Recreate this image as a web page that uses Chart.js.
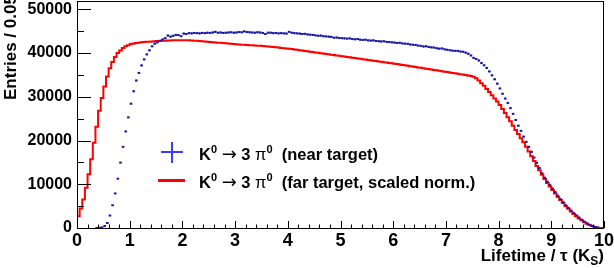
<!DOCTYPE html>
<html>
<head>
<meta charset="utf-8">
<script src="https://cdn.jsdelivr.net/npm/chart.js@4.4.1/dist/chart.umd.min.js"></script>
<style>
  html, body { margin: 0; padding: 0; background: #fff; }
  #wrap { position: relative; width: 614px; height: 268px; overflow: hidden; }
  #legend { position: absolute; left: 0; top: 0; font-family: "Liberation Sans", Arial, sans-serif; font-weight: bold; font-size: 16.5px; color: #000; }
  .row { position: absolute; left: 199px; white-space: pre; line-height: 18px; }
  .row sup { font-size: 11px; position: relative; top: -7px; vertical-align: baseline; line-height: 0; }
  .thin { font-weight: normal; }
  .arrow { font-weight: normal; font-family: "DejaVu Sans", sans-serif; font-size: 18px; line-height: 0; }
  .mark { position: absolute; }
</style>
</head>
<body>
<div id="wrap">
  <canvas id="myChart" width="614" height="268"></canvas>
  <div id="legend">
    <div class="mark" style="left:161px; top:151px; width:22px; height:2px; background:#3c3cff;"></div>
    <div class="mark" style="left:171px; top:142px; width:2px; height:21px; background:#3c3cff;"></div>
    <div class="mark" style="left:158px; top:179px; width:27px; height:3px; background:#ff0000;"></div>
    <div class="row" style="top:145px;">K<sup>0</sup> <span class="arrow">→</span> 3 <span class="thin">π</span><sup>0</sup>  (near target)</div>
    <div class="row" style="top:173px;">K<sup>0</sup> <span class="arrow">→</span> 3 <span class="thin">π</span><sup>0</sup>  (far target, scaled norm.)</div>
  </div>
</div>
<script>
const binWidth = 0.05;
const xTicks = [0, 1, 2, 3, 4, 5, 6, 7, 8, 9, 10];
const yTicks = [0, 10000, 20000, 30000, 40000, 50000];

// entries per 0.05 bin, 0 -> 10
const nearTarget = [
  null, null, null, null, null, null, null, 20, 60, 150,
  450, 1150, 2850, 5200, 7900, 11270, 14950, 18550, 22070, 25290,
  28420, 31260, 33720, 35460, 37170, 38550, 39700, 40620, 41540, 42150,
  42450, 42800, 43100, 43400, 44000, 43750, 43950, 44150, 44100, 43850,
  44450, 44350, 44550, 44500, 44600, 44550, 44500, 44600, 44550, 44650,
  44600, 44700, 44850, 44650, 44700, 44600, 44650, 44700, 44750, 44650,
  44700, 44800, 44750, 44950, 44800, 44750, 44700, 44650, 44750, 44700,
  44600, 44350, 44650, 44650, 44550, 44600, 44500, 44550, 44500, 44450,
  44850, 44650, 44550, 44500, 44450, 44350, 44400, 44250, 44200, 44150,
  44050, 43950, 44000, 43850, 43800, 43750, 43700, 43500, 43550, 43450,
  43400, 43350, 43300, 43350, 43200, 43150, 43200, 43050, 43000, 43050,
  42900, 42850, 42900, 42750, 42700, 42650, 42700, 42550, 42500, 42450,
  42400, 42300, 42350, 42200, 42150, 42100, 41950, 41900, 41850, 41700,
  41650, 41500, 41550, 41400, 41300, 41250, 41100, 41000, 41050, 40850,
  40750, 40650, 40550, 40500, 40500, 40350, 40300, 40100, 39850, 39450,
  38900, 38650, 38300, 37700, 37200, 36600, 35800, 34900, 34000, 33000,
  31900, 30700, 29600, 28600, 27400, 26100, 24700, 23400, 22200, 20900,
  19700, 18550, 17400, 16100, 14900, 13700, 12500, 11500, 10600, 9800,
  9000, 8200, 7400, 6600, 5900, 5200, 4600, 4000, 3400, 2900,
  2400, 1900, 1450, 1050, 750, 480, 270, 120, null, null
];

const farTarget = [
  2700, 4460, 6530, 9200, 12300, 15700, 19500, 23150, 26800, 29700,
  32350, 34650, 36550, 37930, 39080, 40000, 40600, 41150, 41540, 41800,
  42070, 42200, 42300, 42380, 42450, 42500, 42560, 42610, 42650, 42700,
  42740, 42780, 42810, 42840, 42860, 42880, 42900, 42910, 42920, 42930,
  42930, 42920, 42900, 42870, 42830, 42790, 42740, 42690, 42640, 42580,
  42530, 42480, 42430, 42380, 42330, 42280, 42230, 42170, 42120, 42070,
  42000, 41960, 41920, 41880, 41840, 41800, 41760, 41720, 41690, 41650,
  41600, 41540, 41480, 41420, 41360, 41300, 41240, 41180, 41120, 41060,
  40980, 40900, 40810, 40730, 40640, 40560, 40470, 40390, 40300, 40220,
  40130, 40050, 39960, 39880, 39790, 39710, 39620, 39540, 39450, 39370,
  39280, 39200, 39110, 39030, 38940, 38860, 38770, 38690, 38600, 38520,
  38430, 38350, 38260, 38180, 38090, 38010, 37920, 37840, 37750, 37670,
  37580, 37480, 37390, 37290, 37190, 37100, 37000, 36900, 36810, 36710,
  36620, 36520, 36420, 36330, 36230, 36130, 36040, 35940, 35840, 35750,
  35650, 35550, 35460, 35360, 35260, 35170, 35070, 34970, 34870, 34760,
  34600, 34250, 33700, 33100, 32500, 31800, 31100, 30350, 29600, 28900,
  28100, 27200, 26300, 25300, 24400, 23400, 22400, 21500, 20500, 19600,
  18600, 17500, 16400, 15300, 14200, 13200, 12200, 11200, 10300, 9500,
  8700, 7900, 7100, 6400, 5700, 5000, 4400, 3800, 3200, 2700,
  2200, 1750, 1350, 1000, 700, 450, 250, 100, 0, 0
];

const fontFamily = '"Liberation Sans", Arial, sans-serif';

// histogram outline: points at low bin edges, stepped
let farPoints = [{ x: 0, y: 0 }];
farTarget.forEach((v, i) => farPoints.push({ x: i * binWidth, y: v }));
farPoints.push({ x: farTarget.length * binWidth, y: farTarget[farTarget.length - 1] });

let nearPoints = [];
nearTarget.forEach((v, i) => {
  if (v !== null) nearPoints.push({ x: (i + 0.5) * binWidth, y: v });
});

const rootFrame = {
  id: "rootFrame",
  afterDatasetsDraw(chart) {
    const { ctx, chartArea: a, scales: { x, y } } = chart;
    ctx.save();

    // near target points with error bars
    ctx.strokeStyle = "rgb(25,25,165)";
    nearPoints.forEach((p) => {
      const px1 = x.getPixelForValue(p.x - binWidth / 2);
      const px2 = x.getPixelForValue(p.x + binWidth / 2);
      const py = y.getPixelForValue(p.y);
      const err = Math.sqrt(p.y);
      ctx.lineWidth = 2;
      ctx.beginPath();
      ctx.moveTo(px1, py);
      ctx.lineTo(px2, py);
      ctx.stroke();
      ctx.lineWidth = 1;
      ctx.beginPath();
      ctx.moveTo((px1 + px2) / 2, y.getPixelForValue(p.y - err));
      ctx.lineTo((px1 + px2) / 2, y.getPixelForValue(p.y + err));
      ctx.stroke();
    });

    // frame
    ctx.strokeStyle = "#000";
    ctx.lineWidth = 1;
    ctx.strokeRect(Math.round(a.left) + 0.5, Math.round(a.top) + 0.5,
      Math.round(a.right - a.left) - 1, Math.round(a.bottom - a.top));

    // inward ticks
    ctx.beginPath();
    for (let k = 0; k <= 10; k++) {
      const v = k * 5000;
      const py = Math.round(y.getPixelForValue(v)) + 0.5;
      const len = k % 2 === 0 ? 14 : 7;
      ctx.moveTo(a.left, py);
      ctx.lineTo(a.left + len, py);
    }
    for (let k = 0; k <= 50; k++) {
      const px = Math.round(x.getPixelForValue(k * 0.2)) + 0.5;
      const len = k % 5 === 0 ? 7 : 3.5;
      ctx.moveTo(px, a.bottom);
      ctx.lineTo(px, a.bottom - len);
    }
    ctx.stroke();

    // axis titles
    ctx.fillStyle = "#000";
    const big = "bold 17px " + fontFamily;
    const small = "bold 12px " + fontFamily;
    ctx.textBaseline = "alphabetic";
    ctx.textAlign = "left";
    const t1 = "Lifetime / τ (K", t2 = "S", t3 = ")";
    ctx.font = big;
    const w1 = ctx.measureText(t1).width, w3 = ctx.measureText(t3).width;
    ctx.font = small;
    const w2 = ctx.measureText(t2).width;
    let tx = a.right - (w1 + w2 + w3);
    const ty = 261;
    ctx.font = big;
    ctx.fillText(t1, tx, ty);
    ctx.font = small;
    ctx.fillText(t2, tx + w1, ty + 4);
    ctx.font = big;
    ctx.fillText(t3, tx + w1 + w2, ty);

    ctx.translate(15.5, 100);
    ctx.rotate(-Math.PI / 2);
    ctx.font = big;
    ctx.fillText("Entries / 0.05", 0, 0);
    ctx.restore();
  },
};

const ctx = document.getElementById("myChart");

var myChart = new Chart(ctx, {
  type: "line",
  data: {
    datasets: [
      {
        label: "K0 -> 3 pi0 (far target, scaled norm.)",
        data: farPoints,
        stepped: "before",
        borderColor: "rgb(255,0,0)",
        borderWidth: 2,
        pointRadius: 0,
        fill: false,
      },
      {
        label: "K0 -> 3 pi0 (near target)",
        data: nearPoints,
        showLine: false,
        pointRadius: 0,
        borderColor: "rgb(25,25,165)",
      },
    ],
  },
  options: {
    responsive: false,
    animation: false,
    layout: { padding: { top: 1, right: 10, left: 0, bottom: 0 } },
    plugins: { legend: { display: false }, tooltip: { enabled: false } },
    scales: {
      x: {
        type: "linear",
        min: 0,
        max: 10,
        grid: { display: false, drawTicks: false },
        border: { display: false },
        ticks: {
          color: "#000",
          font: { family: fontFamily, size: 18, weight: "bold" },
          padding: 2,
          maxRotation: 0,
          autoSkip: false,
          callback: (v) => String(v),
        },
        afterBuildTicks: (s) => { s.ticks = xTicks.map((v) => ({ value: v })); },
        afterFit: (s) => { s.height = 40; s.paddingLeft = 0; s.paddingRight = 0; },
      },
      y: {
        type: "linear",
        min: 0,
        max: 51900,
        grid: { display: false, drawTicks: false },
        border: { display: false },
        ticks: {
          color: "#000",
          font: { family: fontFamily, size: 16, weight: "bold" },
          padding: 5,
          callback: (v) => String(v),
        },
        afterBuildTicks: (s) => { s.ticks = yTicks.map((v) => ({ value: v })); },
        afterFit: (s) => { s.width = 77; s.paddingTop = 0; s.paddingBottom = 0; },
      },
    },
  },
  plugins: [rootFrame],
});
</script>
</body>
</html>
